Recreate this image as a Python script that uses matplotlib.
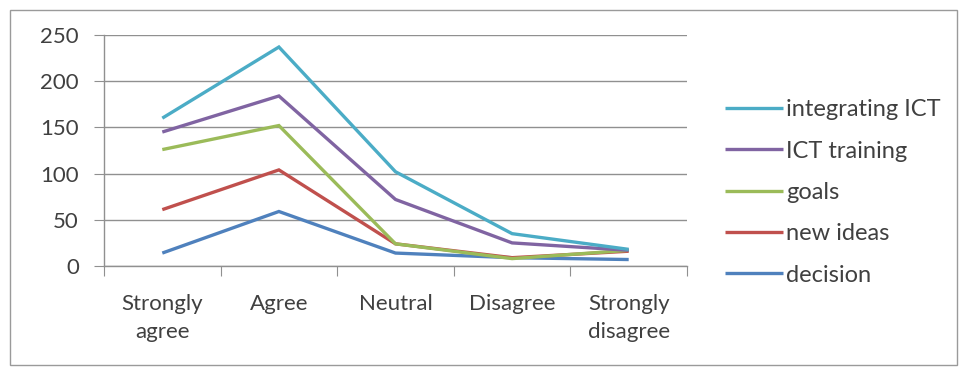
import matplotlib
matplotlib.use("Agg")
import matplotlib.pyplot as plt
from matplotlib.patches import Rectangle

categories = ["Strongly\nagree", "Agree", "Neutral", "Disagree", "Strongly\ndisagree"]
series_names = ["decision", "new ideas", "goals", "ICT training", "integrating ICT"]
decision = [14, 59, 14, 9, 7]
new_ideas = [61, 104, 24, 9, 16]
goals = [126, 152, 24, 8, 17]
ict_training = [145, 184, 72, 25, 17]
integrating_ict = [160, 237, 102, 35, 18]
y_ticks = [0, 50, 100, 150, 200, 250]

series = [decision, new_ideas, goals, ict_training, integrating_ict]
colors = ["#4F81BD", "#C0504D", "#9BBB59", "#8064A2", "#4BACC6"]
text_color = "#404040"
grid_color = "#909090"

plt.rcParams["font.family"] = ["Lato", "DejaVu Sans"]

W, H = 965, 369
fig = plt.figure(figsize=(W / 100, H / 100), dpi=100)
fig.patch.set_facecolor("white")

# outer chart frame
fig.add_artist(Rectangle((10 / W, 1 - 365 / H), 947 / W, 355 / H,
                         transform=fig.transFigure, fill=False,
                         edgecolor="#9a9a9a", linewidth=1.0))

ax = fig.add_axes([104 / W, 1 - 266 / H, (687 - 104) / W, (266 - 35) / H])
x = list(range(len(categories)))
handles = []
for vals, name, c in zip(series, series_names, colors):
    h, = ax.plot(x, vals, color=c, linewidth=2.4, label=name,
                 solid_joinstyle="miter", solid_capstyle="butt")
    handles.append(h)

ax.set_xlim(-0.5, len(categories) - 0.5)
ax.set_ylim(0, 250)
ax.set_yticks(y_ticks)
ax.set_yticklabels([str(v) for v in y_ticks], fontsize=16, color=text_color)
ax.tick_params(axis="y", length=7, color=grid_color, pad=11)
ax.yaxis.grid(True, color=grid_color, linewidth=1.0)
ax.set_axisbelow(True)

ax.set_xticks([i - 0.5 for i in range(len(categories) + 1)])
ax.set_xticklabels([])
ax.set_xticks(x, minor=True)
ax.set_xticklabels(categories, minor=True, fontsize=16, color=text_color,
                   linespacing=1.5)
ax.tick_params(axis="x", which="major", length=7, color=grid_color, direction="out")
ax.tick_params(axis="x", which="minor", length=0, pad=20)

for s in ["top", "right"]:
    ax.spines[s].set_visible(False)
for s in ["left", "bottom"]:
    ax.spines[s].set_color(grid_color)
    ax.spines[s].set_linewidth(1.0)

leg = fig.legend(handles[::-1], series_names[::-1], loc="upper left",
                 bbox_to_anchor=(716 / W, 1 - 90 / H), frameon=False,
                 fontsize=17, handlelength=2.45, handletextpad=0.12,
                 labelspacing=0.86, borderaxespad=0)
for t in leg.get_texts():
    t.set_color(text_color)
for line in leg.get_lines():
    line.set_linewidth(2.4)

fig.savefig("out.png", dpi=100)
